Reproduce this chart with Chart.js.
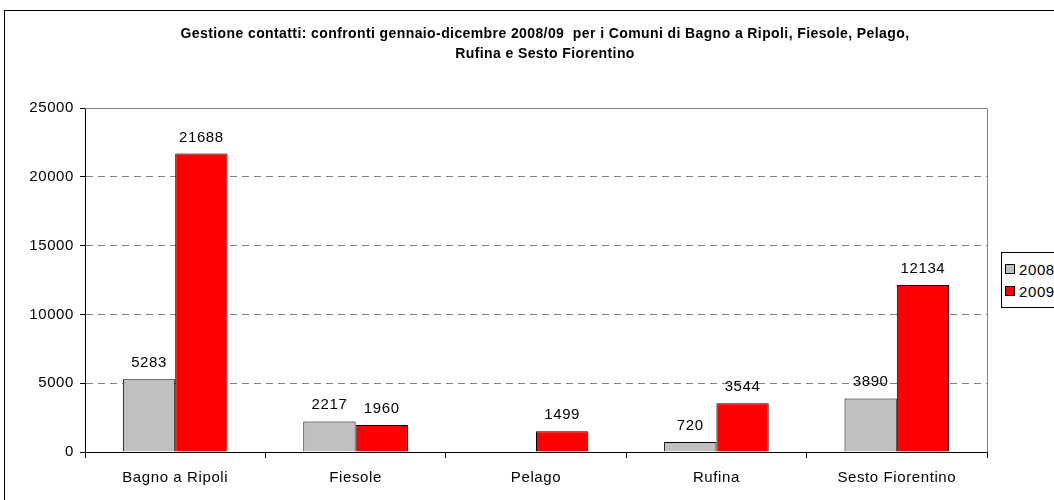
<!DOCTYPE html>
<html>
<head>
<meta charset="utf-8">
<script src="https://cdn.jsdelivr.net/npm/chart.js@4.4.3/dist/chart.umd.min.js"></script>
<style>
  html, body { margin: 0; padding: 0; background: #fff; overflow: hidden; }
  #wrap { position: relative; width: 1054px; height: 500px; }
  #frame { position: absolute; left: 4px; top: 10px; width: 1200px; height: 600px; border: 1px solid #000; box-sizing: border-box; }
  #legend { position: absolute; left: 1001px; top: 252px; width: 80px; height: 56px; border: 1px solid #000; box-sizing: border-box;
            font: 15px "Liberation Sans", Arial, sans-serif; letter-spacing: 0.6px; background: #fff; }
  #legend div { position: absolute; left: 3px; line-height: 16px; }
  #legend span.sw { display: inline-block; width: 8px; height: 8px; border: 1px solid #000; margin-right: 4px; vertical-align: 1px; }
  canvas { position: absolute; left: 0; top: 0; }
</style>
</head>
<body>
<div id="wrap">
  <div id="frame"></div>
  <canvas id="chart" width="1054" height="500"></canvas>
  <div id="legend"></div>
</div>
<script>
const titleLines = [
  'Gestione contatti: confronti gennaio-dicembre 2008/09  per i Comuni di Bagno a Ripoli, Fiesole, Pelago,',
  'Rufina e Sesto Fiorentino'
];
const comuni = ['Bagno a Ripoli', 'Fiesole', 'Pelago', 'Rufina', 'Sesto Fiorentino'];
const serie2008 = [5283, 2217, null, 720, 3890];
const serie2009 = [21688, 1960, 1499, 3544, 12134];
const seriesNames = ['2008', '2009'];
const seriesColors = ['#c0c0c0', '#ff0000'];
const yTicks = [0, 5000, 10000, 15000, 20000, 25000];

const FONT = '"Liberation Sans", Arial, sans-serif';

// legend (html)
const legendEl = document.getElementById('legend');
seriesNames.forEach((name, i) => {
    const row = document.createElement('div');
    row.style.top = (i === 0 ? 9 : 31) + 'px';
    row.innerHTML = '<span class="sw" style="background:' + seriesColors[i] + '"></span>' + name;
    legendEl.appendChild(row);
});

// wider text spacing like the original rendering
const spacing = {
    id: 'spacing',
    beforeDraw(chart) { chart.ctx.letterSpacing = '0.6px'; }
};

// title + value labels + plot frame
const extras = {
    id: 'extras',
    afterDraw(chart) {
        const ctx = chart.ctx;
        const a = chart.chartArea;
        ctx.save();
        ctx.strokeStyle = '#808080';
        ctx.lineWidth = 1;
        ctx.setLineDash([]);
        ctx.beginPath();
        ctx.moveTo(a.left, a.top + 0.5);
        ctx.lineTo(a.right + 0.5, a.top + 0.5);
        ctx.lineTo(a.right + 0.5, a.bottom);
        ctx.stroke();

        // title
        ctx.fillStyle = '#000';
        ctx.textAlign = 'center';
        ctx.textBaseline = 'alphabetic';
        ctx.letterSpacing = '0.4px';
        ctx.font = 'bold 14px ' + FONT;
        ctx.fillText(titleLines[0], 545, 38);
        ctx.fillText(titleLines[1], 545, 58);

        // value labels
        ctx.letterSpacing = '0.6px';
        ctx.font = '15px ' + FONT;
        chart.data.datasets.forEach((ds, di) => {
            const meta = chart.getDatasetMeta(di);
            meta.data.forEach((bar, i) => {
                if (ds.data[i] == null) return;
                ctx.fillText(String(ds.data[i]), bar.x, bar.y - 12);
            });
        });
        ctx.restore();
    }
};

new Chart(document.getElementById('chart'), {
    type: 'bar',
    data: {
        labels: comuni,
        datasets: seriesNames.map((name, i) => ({
            label: name,
            data: i === 0 ? serie2008 : serie2009,
            backgroundColor: seriesColors[i],
            borderColor: '#000',
            borderWidth: 1,
            borderSkipped: 'bottom',
            barPercentage: 1,
            categoryPercentage: 0.58
        }))
    },
    options: {
        responsive: false,
        animation: false,
        devicePixelRatio: 1,
        layout: { padding: { left: 20, right: 67, top: 108, bottom: 0 } },
        plugins: {
            legend: { display: false },
            title: { display: false },
            tooltip: { enabled: false }
        },
        scales: {
            x: {
                grid: { offset: true, drawOnChartArea: false, drawTicks: true, tickLength: 6, tickColor: '#000' },
                border: { color: '#000', width: 1 },
                ticks: { color: '#000', font: { family: FONT, size: 15 }, padding: 11, maxRotation: 0 },
                afterFit(s) { s.height = 48; }
            },
            y: {
                min: 0,
                max: 25000,
                afterBuildTicks(s) { s.ticks = yTicks.map(v => ({ value: v })); },
                grid: { color: '#808080', tickColor: '#000', tickLength: 5, lineWidth: 1 },
                border: { color: '#000', width: 1, dash: [7, 5] },
                ticks: { color: '#000', font: { family: FONT, size: 15 }, padding: 6, callback: v => String(v) },
                afterFit(s) { s.width = 65; }
            }
        }
    },
    plugins: [spacing, extras]
});
</script>
</body>
</html>
